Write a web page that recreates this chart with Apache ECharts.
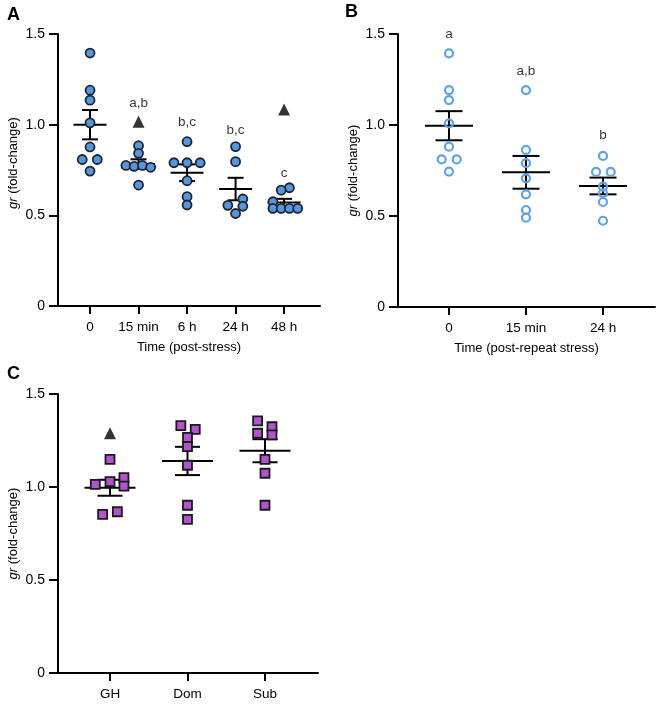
<!DOCTYPE html>
<html>
<head>
<meta charset="utf-8">
<script src="https://cdn.jsdelivr.net/npm/echarts@6/dist/echarts.min.js"></script>
<style>
html, body { margin: 0; padding: 0; background: #fff; }
#main { width: 660px; height: 704px; }
</style>
</head>
<body>
<div id="main"></div>
<script>
// panel A: single stress
const catsA = ['0', '15 min', '6 h', '24 h', '48 h'];
const valsA = [
  [1.395, 1.19, 1.135, 1.01, 0.877, 0.808, 0.808, 0.744],
  [0.884, 0.842, 0.775, 0.77, 0.775, 0.765, 0.667],
  [0.906, 0.79, 0.79, 0.79, 0.691, 0.603, 0.557],
  [0.879, 0.796, 0.59, 0.555, 0.55, 0.51],
  [0.652, 0.639, 0.575, 0.538, 0.538, 0.538, 0.538]
];
const jitA = [
  [0, 0, 0, 0, 0, -0.16, 0.15, 0],
  [0, 0, -0.26, -0.09, 0.08, 0.25, 0],
  [0, -0.27, 0, 0.27, 0, 0, 0],
  [0, 0, 0.15, -0.16, 0.15, 0],
  [0.11, -0.06, -0.23, -0.23, -0.06, 0.11, 0.28]
];
const meanA = [1.0, 0.783, 0.735, 0.645, 0.571];
const semA = [0.081, 0.026, 0.046, 0.062, 0.02];
const outXA = [1, 4];
const outYA = [1.016, 1.083];
const lettersA = ['a', 'a,b', 'b,c', 'b,c', 'c'];
const letterYA = [1.503, 1.118, 1.013, 0.971, 0.732];

// panel B: repeat stress
const catsB = ['0', '15 min', '24 h'];
const valsB = [
  [1.394, 1.192, 1.137, 1.009, 0.881, 0.811, 0.811, 0.744],
  [1.192, 0.863, 0.79, 0.707, 0.619, 0.533, 0.491],
  [0.83, 0.742, 0.742, 0.661, 0.625, 0.577, 0.474]
];
const jitB = [
  [0, 0, 0, 0, 0, -0.095, 0.1, 0],
  [0, 0, 0, 0, 0, 0, 0],
  [0, -0.09, 0.1, 0, 0, 0, 0]
];
const meanB = [0.996, 0.74, 0.665];
const semB = [0.08, 0.09, 0.046];
const lettersB = ['a', 'a,b', 'b'];
const letterYB = [1.5, 1.293, 0.945];

// panel C: social groups
const catsC = ['GH', 'Dom', 'Sub'];
const valsC = [
  [1.149, 1.029, 1.014, 1.05, 1.005, 0.853, 0.867],
  [1.33, 1.31, 1.267, 1.217, 1.117, 0.902, 0.826],
  [1.355, 1.324, 1.289, 1.28, 1.149, 1.074, 0.902]
];
const jitC = [
  [0, 0, -0.19, 0.18, 0.18, -0.095, 0.095],
  [-0.086, 0.1, 0, 0, 0, 0, 0],
  [-0.095, 0.09, -0.095, 0.09, 0, 0, 0]
];
const meanC = [0.996, 1.14, 1.195];
const semC = [0.043, 0.076, 0.062];
const outXC = [0];
const outYC = [1.289];

const FONT = 'Liberation Sans, Arial, sans-serif';
const INK = '#000';

function points(vals, jit) {
  const out = [];
  vals.forEach((g, i) => g.forEach((v, j) => out.push([i + jit[i][j], v])));
  return out;
}

function xAx(gi, cats, min, max, name) {
  const ticks = cats.map((c, i) => i);
  return {
    type: 'value', gridIndex: gi, min: min, max: max,
    name: name, nameLocation: 'middle', nameGap: 35,
    nameTextStyle: { fontFamily: FONT, fontSize: 13, color: INK },
    axisLine: { show: true, onZero: false, lineStyle: { color: '#000', width: 2 } },
    axisTick: { show: true, customValues: ticks, length: 8, lineStyle: { color: '#000', width: 2 } },
    axisLabel: { customValues: ticks, margin: 14, fontFamily: FONT, fontSize: 13.5, color: INK,
      formatter: v => cats[Math.round(v)] },
    splitLine: { show: false }
  };
}

function yAx(gi, pad) {
  return {
    type: 'value', gridIndex: gi, min: 0, max: 1.5, interval: 0.5,
    name: '{i|gr} (fold-change)', nameLocation: 'middle', nameGap: 38,
    nameTextStyle: { fontFamily: FONT, fontSize: 13, color: INK, padding: [0, 0, 0, pad],
      rich: { i: { fontStyle: 'italic', fontFamily: FONT, fontSize: 13, color: INK } } },
    axisLine: { show: true, onZero: false, lineStyle: { color: '#000', width: 2 } },
    axisTick: { show: true, length: 9, lineStyle: { color: '#000', width: 2 } },
    axisLabel: { margin: 13, fontFamily: FONT, fontSize: 14, color: INK,
      formatter: v => v === 0 ? '0' : v.toFixed(1) },
    splitLine: { show: false }
  };
}

function errBars(idx, means, sems, meanHalf, capHalf) {
  return {
    type: 'custom', xAxisIndex: idx, yAxisIndex: idx, z: 1,
    data: means.map((m, i) => [i, m, sems[i]]),
    renderItem: function (params, api) {
      const x = api.value(0), m = api.value(1), s = api.value(2);
      const c = api.coord([x, m]);
      const t = api.coord([x, m + s]);
      const b = api.coord([x, m - s]);
      const st = { stroke: '#000', lineWidth: 2 };
      return {
        type: 'group',
        children: [
          { type: 'line', shape: { x1: c[0] - meanHalf, y1: c[1], x2: c[0] + meanHalf, y2: c[1] }, style: st },
          { type: 'line', shape: { x1: c[0], y1: t[1], x2: c[0], y2: b[1] }, style: st },
          { type: 'line', shape: { x1: c[0] - capHalf, y1: t[1], x2: c[0] + capHalf, y2: t[1] }, style: st },
          { type: 'line', shape: { x1: c[0] - capHalf, y1: b[1], x2: c[0] + capHalf, y2: b[1] }, style: st }
        ]
      };
    }
  };
}

function letters(idx, labels, ys) {
  return {
    type: 'scatter', xAxisIndex: idx, yAxisIndex: idx, z: 5,
    symbolSize: 1, itemStyle: { color: 'transparent' },
    data: labels.map((l, i) => [i, ys[i]]),
    label: { show: true, position: 'inside', fontFamily: FONT, fontSize: 13.5, color: INK,
      formatter: p => labels[p.dataIndex] }
  };
}

function outliers(idx, xs, ys) {
  return {
    type: 'scatter', xAxisIndex: idx, yAxisIndex: idx, z: 4,
    symbol: 'triangle', symbolSize: 12, itemStyle: { color: '#000' },
    data: xs.map((x, i) => [x, ys[i]])
  };
}

const chart = echarts.init(document.getElementById('main'));
chart.setOption({
  animation: false,
  backgroundColor: '#fff',
  grid: [
    { left: 58, top: 34, width: 262, height: 272, containLabel: false, outerBoundsMode: 'none' },
    { left: 398, top: 34, width: 257, height: 273, containLabel: false, outerBoundsMode: 'none' },
    { left: 58, top: 394, width: 260, height: 279, containLabel: false, outerBoundsMode: 'none' }
  ],
  xAxis: [
    xAx(0, catsA, -0.66, 4.74, 'Time (post-stress)'),
    xAx(1, catsB, -0.662, 2.675, 'Time (post-repeat stress)'),
    xAx(2, catsC, -0.671, 2.684, '')
  ],
  yAxis: [yAx(0, 14), yAx(1, 0), yAx(2, 0)],
  graphic: [
    { type: 'text', left: 7, top: 6, style: { text: 'A', font: 'bold 18px ' + FONT, fill: '#000' } },
    { type: 'text', left: 345, top: 3, style: { text: 'B', font: 'bold 18px ' + FONT, fill: '#000' } },
    { type: 'text', left: 7, top: 365, style: { text: 'C', font: 'bold 18px ' + FONT, fill: '#000' } }
  ],
  series: [
    errBars(0, meanA, semA, 16.5, 8),
    errBars(1, meanB, semB, 24, 13.5),
    errBars(2, meanC, semC, 25.5, 12.5),
    {
      type: 'scatter', xAxisIndex: 0, yAxisIndex: 0, z: 3,
      symbol: 'circle', symbolSize: 9,
      itemStyle: { color: '#5597dc', borderColor: '#1b2433', borderWidth: 1.8, opacity: 1 },
      data: points(valsA, jitA)
    },
    {
      type: 'scatter', xAxisIndex: 1, yAxisIndex: 1, z: 3,
      symbol: 'circle', symbolSize: 8,
      itemStyle: { color: 'rgba(0,0,0,0)', borderColor: '#5ba3ee', borderWidth: 2.2, opacity: 1 },
      data: points(valsB, jitB)
    },
    {
      type: 'scatter', xAxisIndex: 2, yAxisIndex: 2, z: 3,
      symbol: 'rect', symbolSize: 9,
      itemStyle: { color: '#b452cf', borderColor: '#1a1a1a', borderWidth: 1.8, opacity: 1 },
      data: points(valsC, jitC)
    },
    outliers(0, outXA, outYA),
    outliers(2, outXC, outYC),
    letters(0, lettersA, letterYA),
    letters(1, lettersB, letterYB)
  ]
});
</script>
</body>
</html>
